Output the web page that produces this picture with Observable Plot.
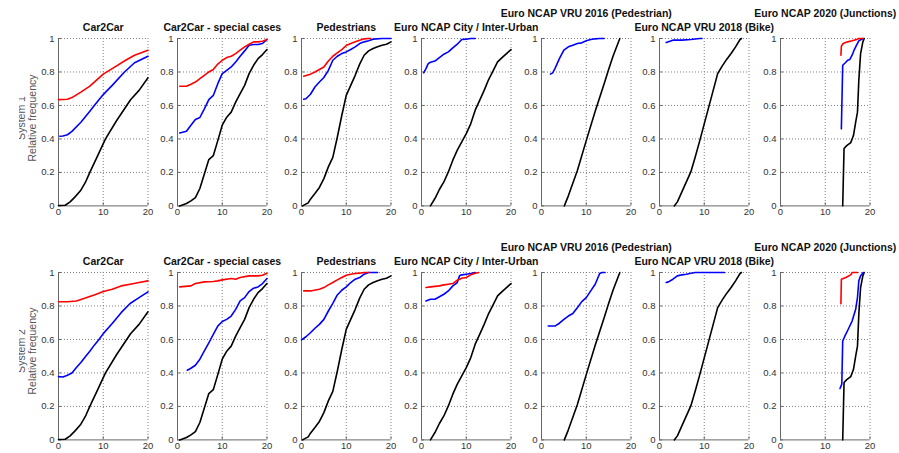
<!DOCTYPE html>
<html>
<head>
<meta charset="utf-8">
<script src="https://cdn.jsdelivr.net/npm/d3@7"></script>
<script src="https://cdn.jsdelivr.net/npm/@observablehq/plot@0.6"></script>
<style>
  body { margin: 0; background: #fff; }
  #fig { position: relative; width: 899px; height: 453px; overflow: hidden; background: #fff;
         font-family: "Liberation Sans", Arial, sans-serif; }
  .panel, .ylab { position: absolute; }
  .panel svg { max-width: none; }
</style>
</head>
<body>
<div id="fig"></div>
<script>
// Scenario categories (one column each) and the two systems (one row each)
const titles = [
  "Car2Car",
  "Car2Car - special cases",
  "Pedestrians",
  "Euro NCAP City / Inter-Urban",
  "Euro NCAP VRU 2016 (Pedestrian)",
  "Euro NCAP VRU 2018 (Bike)",
  "Euro NCAP 2020 (Junctions)"
];
const raisedTitle = [false, false, false, false, true, false, true];
const systems = ["System 1", "System 2"];
const xTicks = [0, 10, 20];
const yTicks = [0, 0.2, 0.4, 0.6, 0.8, 1];

// Reference distributions (black), shared by both systems: [value, cumulative frequency]
const car2carBlack = [[0,.002],[1.5,.004],[2.6,.024],[3.7,.054],[4.9,.09],[6,.14],[7,.2],[8.5,.285],[10.5,.4],[13,.51],[16.1,.634],[18,.69],[20,.765]];
const specialBlack = [[0.5,0],[2,.014],[3,.03],[4,.05],[5,.104],[6,.19],[7,.277],[8,.30],[9,.39],[10,.482],[11,.53],[12,.56],[13,.62],[14,.67],[15,.72],[16,.79],[17,.84],[18,.88],[19,.904],[20,.934]];
const pedBlack = [[0.2,0],[1.5,.018],[2,.04],[3,.074],[4,.11],[5,.163],[6,.233],[7,.29],[8,.41],[9,.54],[10,.66],[11,.72],[12,.78],[13,.847],[14,.90],[15,.926],[16,.94],[17,.95],[18,.96],[19,.966],[20,.98]];
const cityBlack = [[2,0],[3,.044],[4,.098],[5,.143],[6,.203],[7,.273],[8,.333],[9,.382],[10,.432],[11,.49],[12,.572],[13,.63],[14,.69],[15,.755],[16,.807],[17,.86],[18,.886],[19,.91],[20,.934]];
const vru16Black = [[5.1,0],[6,.06],[8,.21],[10,.39],[12,.565],[14,.73],[15,.815],[16,.895],[17.5,1]];
const vru18Black = [[3.3,0],[4,.024],[5,.084],[6,.143],[7,.203],[8,.293],[9,.39],[10,.49],[11,.59],[12,.69],[13,.79],[14,.835],[15,.875],[16,.91],[17,.95],[18,.994],[18.3,1]];
const junctBlack = [[13.9,0],[14.2,.343],[14.8,.36],[15.7,.378],[16.3,.42],[16.8,.5],[17.2,.56],[17.5,.75],[17.9,.91],[18.4,.98],[18.7,1]];

// System 1
const s1Car2carRed = [[0,.635],[2,.637],[3,.647],[5,.68],[7,.715],[10,.787],[12,.82],[15,.87],[17,.90],[20,.93]];
const s1Car2carBlue = [[0.3,.416],[1,.418],[2,.425],[3,.445],[5,.50],[7,.565],[8,.6],[10,.665],[12,.72],[14.75,.8],[17,.855],[20,.894]];
const s1SpecialRed = [[0.5,.715],[2,.715],[3,.727],[4,.74],[5,.76],[6,.78],[7,.80],[8,.815],[9,.847],[10,.87],[11,.886],[12,.894],[13,.91],[14,.93],[15,.95],[16,.966],[17,.98],[18,.98],[19,.984],[20,.994]];
const s1SpecialBlue = [[0.5,.436],[2,.446],[3,.482],[4,.516],[5,.528],[6,.58],[7,.635],[8,.66],[9,.73],[10,.79],[11,.81],[12,.83],[13,.86],[14,.894],[15,.926],[16,.96],[17,.964],[18,.964],[19,.97],[20,.994]];
const s1PedRed = [[0.5,.775],[2,.787],[3,.80],[4,.815],[5,.83],[6,.866],[7,.894],[8,.914],[9,.934],[10,.958],[11,.97],[12,.98],[13,.99],[14,.998],[15,1],[15.5,1]];
const s1PedBlue = [[0.5,.637],[1,.64],[2,.667],[3,.71],[4,.74],[5,.767],[6,.81],[7,.87],[8,.894],[9,.91],[10,.92],[11,.934],[12,.95],[13,.97],[14,.98],[15,.986],[16,.996],[18,1],[20,1]];
const s1CityRed = [];
const s1CityBlue = [[0.5,.795],[1,.82],[1.5,.85],[2,.858],[3,.865],[4,.886],[5,.906],[6,.92],[7,.944],[8,.966],[9,.994],[10,.996],[11,1],[12,1]];
const s1Vru16Red = [];
const s1Vru16Blue = [[2,.787],[2.5,.795],[3,.82],[4,.88],[5,.93],[6,.95],[7,.96],[8,.97],[9,.974],[10,.986],[11,.994],[12,.998],[13,1],[14,1]];
const s1Vru18Red = [];
const s1Vru18Blue = [[1.5,.976],[3,.99],[5,.99],[7,.994],[9,1],[9.5,1]];
const s1JunctRed = [[13.5,.90],[13.6,.954],[14,.97],[15,.98],[16,.986],[17,.994],[17.5,1],[18.5,1]];
const s1JunctBlue = [[13.6,.46],[13.9,.84],[14.5,.855],[15,.87],[15.5,.875],[16,.90],[16.5,.934],[17,.96],[17.5,.986],[18,.994],[18.5,1]];

// System 2
const s2Car2carRed = [[0,.825],[2,.825],[4,.83],[6,.847],[8,.866],[10,.886],[12,.90],[14,.92],[16,.93],[18,.94],[20,.95]];
const s2Car2carBlue = [[0,.378],[1,.376],[2,.386],[3,.40],[4,.432],[5,.462],[6,.496],[7,.53],[8,.566],[9,.598],[10,.635],[12,.695],[14,.76],[16,.815],[18,.85],[20,.884]];
const s2SpecialRed = [[0.5,.914],[3,.92],[4,.934],[6,.944],[8,.946],[9,.95],[10,.956],[12,.964],[13,.96],[14,.97],[16,.98],[18,.98],[19,.984],[20,.996]];
const s2SpecialBlue = [[2.2,.416],[3,.428],[4,.446],[5,.482],[6,.532],[7,.58],[8,.63],[9,.68],[10,.707],[11,.72],[12,.74],[13,.78],[14,.83],[15,.85],[16,.886],[17,.906],[18,.914],[19,.934],[20,.964]];
const s2PedRed = [[0.5,.89],[2,.89],[4,.90],[5,.91],[6,.926],[7,.94],[8,.956],[9,.97],[10,.984],[11,.99],[12,.994],[13,.996],[14,1],[15,1]];
const s2PedBlue = [[0,.598],[1,.616],[2,.64],[3,.667],[4,.69],[5,.72],[6,.77],[7,.815],[8,.866],[9,.894],[10,.914],[11,.94],[12,.96],[13,.97],[14,.99],[15,1],[17,1]];
const s2CityRed = [[1,.91],[2,.914],[4,.92],[5,.926],[6,.93],[7,.934],[8,.954],[9,.966],[10,.97],[11,.986],[12,.996],[12.8,1]];
const s2CityBlue = [[1,.83],[2,.84],[3,.84],[4,.855],[5,.87],[6,.89],[7,.92],[8,.94],[8.5,.98],[9,.986],[10,.99],[11,.994],[12,1]];
const s2Vru16Red = [];
const s2Vru16Blue = [[1.5,.68],[3,.68],[4,.697],[5,.72],[6,.74],[7,.755],[8,.79],[9,.826],[10,.85],[11,.89],[12,.93],[13,.994],[13.5,1],[14.2,1]];
const s2Vru18Red = [];
const s2Vru18Blue = [[1.5,.94],[2,.944],[3,.96],[4,.98],[5,.986],[6,.99],[7,.996],[8,1],[14.5,1]];
const s2JunctRed = [[13.5,.813],[13.6,.96],[14.6,.97],[15.7,.986],[16,1],[17.2,1]];
const s2JunctBlue = [[13.3,.307],[13.7,.333],[13.9,.59],[14.3,.615],[15.3,.67],[16,.71],[16.8,.78],[17.2,.85],[17.5,.95],[17.9,.98],[18.5,1]];

const blacks = [car2carBlack, specialBlack, pedBlack, cityBlack, vru16Black, vru18Black, junctBlack];
const reds = [
  [s1Car2carRed, s1SpecialRed, s1PedRed, s1CityRed, s1Vru16Red, s1Vru18Red, s1JunctRed],
  [s2Car2carRed, s2SpecialRed, s2PedRed, s2CityRed, s2Vru16Red, s2Vru18Red, s2JunctRed]
];
const blues = [
  [s1Car2carBlue, s1SpecialBlue, s1PedBlue, s1CityBlue, s1Vru16Blue, s1Vru18Blue, s1JunctBlue],
  [s2Car2carBlue, s2SpecialBlue, s2PedBlue, s2CityBlue, s2Vru16Blue, s2Vru18Blue, s2JunctBlue]
];

// Layout of the subplot grid
const panelLeft = [58.3, 176.7, 301, 420.7, 541, 659, 780];
const rowTop = [38.3, 271.7];
const frameW = 89.5, frameH = 167.4;
const M = {l: 45, r: 45, t: 40, b: 18};
const FONT = '"Liberation Sans", Arial, sans-serif';

const fig = document.getElementById("fig");

function panel(col, row) {
  const dotted = {stroke: "#808080", strokeOpacity: 1, strokeWidth: 1, strokeDasharray: "1,2"};
  const lines = [
    [blacks[col], "#000000"],
    [blues[row][col], "#0000ff"],
    [reds[row][col], "#ff0000"]
  ].filter(([pts]) => pts.length)
   .map(([pts, color]) => Plot.line(pts, {stroke: color, strokeWidth: 1.6}));

  return Plot.plot({
    width: M.l + frameW + M.r,
    height: M.t + frameH + M.b,
    marginLeft: M.l, marginRight: M.r, marginTop: M.t, marginBottom: M.b,
    x: {domain: [0, 20]},
    y: {domain: [0, 1]},
    style: {background: "transparent", overflow: "visible", maxWidth: "none",
            fontFamily: FONT, fontSize: "9.5px", color: "#333"},
    marks: [
      Plot.gridX(xTicks.slice(1), dotted),
      Plot.gridY(yTicks.slice(1), dotted),
      Plot.axisX(xTicks, {tickSize: -3, tickPadding: 5, stroke: "#666", fill: "#333", tickFormat: d3.format("~g")}),
      Plot.axisY(yTicks, {tickSize: -3, tickPadding: 7, stroke: "#666", fill: "#333", tickFormat: d3.format("~g")}),
      Plot.ruleX([0], {stroke: "#666"}),
      Plot.ruleY([0], {stroke: "#666"}),
      ...lines,
      Plot.text([titles[col]], {
        x: 10, y: 1, dy: raisedTitle[col] ? -25 : -11,
        fontWeight: "bold", fontSize: 10.5, fill: "#111"
      })
    ]
  });
}

rowTop.forEach((top, row) => {
  panelLeft.forEach((left, col) => {
    const div = document.createElement("div");
    div.className = "panel";
    div.style.left = (left - M.l) + "px";
    div.style.top = (top - M.t) + "px";
    div.style.width = (M.l + frameW + M.r) + "px";
    div.appendChild(panel(col, row));
    fig.appendChild(div);
  });

  // Row label: system name over "Relative frequency", rotated
  const cy = top + frameH / 2 - 4;
  const svg = d3.create("svg")
    .attr("class", "ylab")
    .attr("width", 26).attr("height", 200)
    .style("left", "18.5px").style("top", (cy - 100) + "px")
    .style("font-family", FONT).style("font-size", "10.5px").style("fill", "#555");
  svg.append("text")
    .attr("transform", "translate(5.5,100) rotate(-90)")
    .attr("text-anchor", "middle")
    .text(systems[row]);
  svg.append("text")
    .attr("transform", "translate(17,100) rotate(-90)")
    .attr("text-anchor", "middle")
    .text("Relative frequency");
  fig.appendChild(svg.node());
});
</script>
</body>
</html>
